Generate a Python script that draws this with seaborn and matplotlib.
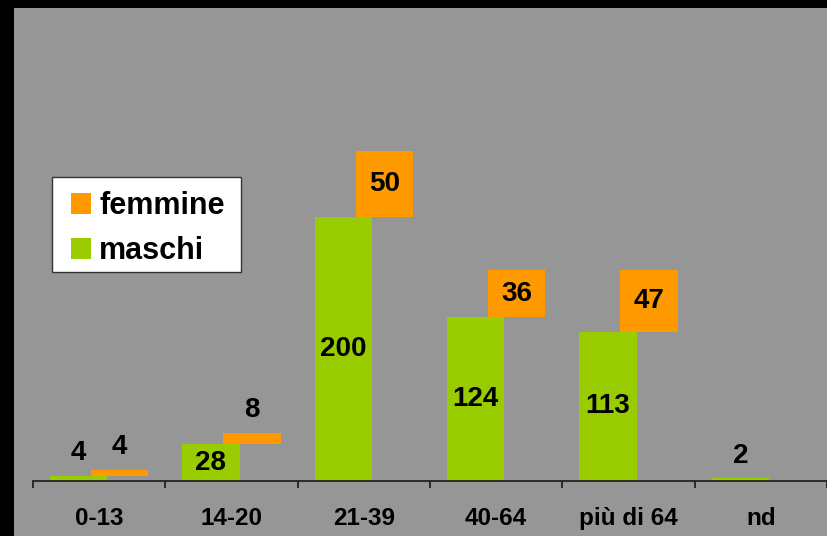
import matplotlib
matplotlib.use("Agg")
import matplotlib.pyplot as plt
import seaborn as sns
import numpy as np
import pandas as pd
from matplotlib.patches import Rectangle, Patch

categories = ["0-13", "14-20", "21-39", "40-64", "più di 64", "nd"]
maschi = [4, 28, 200, 124, 113, 2]
femmine = [4, 8, 50, 36, 47, 0]

GREEN = "#99CC00"
ORANGE = "#FF9900"
BG = "#969696"

sns.set_theme(style="white")
plt.rcParams["font.family"] = ["Liberation Sans", "DejaVu Sans"]
plt.rcParams["font.weight"] = "bold"
plt.rcParams["text.color"] = "black"

W, H = 827, 536
fig = plt.figure(figsize=(W / 100, H / 100), dpi=100)
fig.patch.set_facecolor(BG)
# black frame bands (top and left)
fig.patches.append(Rectangle((0, 1 - 8 / H), 1, 8 / H, transform=fig.transFigure,
                             facecolor="black", edgecolor="none", zorder=0))
fig.patches.append(Rectangle((0, 0), 14 / W, 1, transform=fig.transFigure,
                             facecolor="black", edgecolor="none", zorder=0))

ax_left = 33 / W
ax_bottom = (H - 481) / H
ax_height = (481 - 8) / H
ax_width = (W - 33) / W
ax = fig.add_axes([ax_left, ax_bottom, ax_width, ax_height])
ax.set_facecolor("none")

idx = np.arange(len(categories))
off = 0.155
bw = 0.434

df_m = pd.DataFrame({"x": idx - off, "v": maschi})
sns.barplot(data=df_m, x="x", y="v", native_scale=True, width=bw, color=GREEN,
            saturation=1, ax=ax, linewidth=0, zorder=2)
ax.bar(idx + off, femmine, bottom=maschi, width=bw, color=ORANGE, linewidth=0, zorder=2)

ppu = 1.32
ax.set_xlim(-0.5, -0.5 + (W - 33) / 133.6)
ax.set_ylim(0, 473 / ppu)

# labels
lab_fs = 20
for i in idx:
    m = maschi[i]
    f = femmine[i]
    if m > 0:
        if m >= 20:
            ax.text(i - off, m / 2, str(m), ha="center", va="center",
                    fontsize=lab_fs, fontweight="bold", color="black", zorder=3)
        else:
            ax.annotate(str(m), (i - off, m), xytext=(0, 16), textcoords="offset points",
                        ha="center", va="center", fontsize=lab_fs, fontweight="bold",
                        color="black", zorder=3)
    if f > 0:
        if f >= 20:
            ax.text(i + off, m + f / 2, str(f), ha="center", va="center",
                    fontsize=lab_fs, fontweight="bold", color="black", zorder=3)
        else:
            ax.annotate(str(f), (i + off, m + f), xytext=(0, 17), textcoords="offset points",
                        ha="center", va="center", fontsize=lab_fs, fontweight="bold",
                        color="black", zorder=3)

# spines / ticks
for s in ["top", "right", "left"]:
    ax.spines[s].set_visible(False)
ax.spines["bottom"].set_color("#222222")
ax.spines["bottom"].set_linewidth(1.3)
ax.set_yticks([])
ax.set_xticks(np.arange(-0.5, 6.5, 1.0))
ax.set_xticklabels([])
ax.tick_params(axis="x", which="major", direction="out", length=5, width=1.3, color="#222222", bottom=True)
ax.set_xticks(idx, minor=True)
ax.set_xticklabels(categories, minor=True, fontsize=17.5, fontweight="bold")
ax.tick_params(axis="x", which="minor", length=0, pad=19, labelcolor="black")
ax.set_xlabel("")
ax.set_ylabel("")
ax.grid(False)

# legend box
fig.patches.append(Rectangle((52 / W, 1 - 272 / H), 189 / W, 95 / H, transform=fig.transFigure,
                             facecolor="white", edgecolor="#333333", linewidth=1.0, zorder=4))
handles = [Patch(facecolor=ORANGE, edgecolor="none", label="femmine"),
           Patch(facecolor=GREEN, edgecolor="none", label="maschi")]
leg = fig.legend(handles=handles, loc="upper left",
                 bbox_to_anchor=(71 / W, 1 - 191 / H), borderaxespad=0,
                 prop={"size": 22, "weight": "bold"}, frameon=False,
                 handlelength=0.67, handleheight=0.67, handletextpad=0.25,
                 labelspacing=0.49, borderpad=0.0)
leg.set_zorder(6)
for t in leg.get_texts():
    t.set_color("black")

fig.savefig("out.png", dpi=100, facecolor=fig.get_facecolor())
